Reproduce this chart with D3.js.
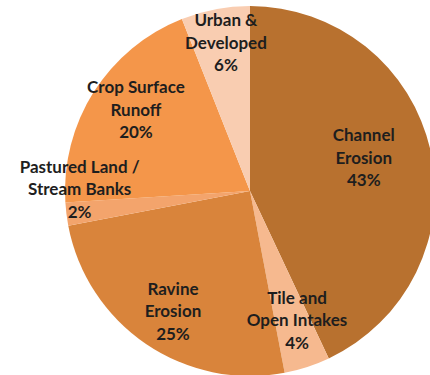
<!DOCTYPE html>
<html>
<head>
<meta charset="utf-8">
<script src="https://cdn.jsdelivr.net/npm/d3@7"></script>
<style>
  body { margin: 0; background: #fff; }
  svg { display: block; }
</style>
</head>
<body>
<svg width="430" height="375"></svg>
<script>
// data, clockwise from 12 o'clock
var categories = ["Channel Erosion", "Tile and Open Intakes", "Ravine Erosion",
                  "Pastured Land / Stream Banks", "Crop Surface Runoff", "Urban & Developed"];
var values = [43, 4, 25, 2, 20, 6];
// how each label wraps
var labelLines = [
    ["Channel", "Erosion"],
    ["Tile and", "Open Intakes"],
    ["Ravine", "Erosion"],
    ["Pastured Land /", "Stream Banks"],
    ["Crop Surface", "Runoff"],
    ["Urban &", "Developed"]
];
var colors = ["#b8712f", "#f6b98f", "#d9843b", "#f3a46c", "#f4964a", "#f9cdb1"];

var svg = d3.select("svg"),
    width = +svg.attr("width"),
    height = +svg.attr("height");

var cx = 250, cy = 191, radius = 185;

// label placement, as a fraction of radius (+ a small nudge)
var labelRadius = [0.63, 0.7, 0.76, 0.95, 0.73, 0.81];
var labelNudge = [[0, -8], [7, 6], [2, 4], [4, -24], [0, -9], [4, -1]];

var pie = d3.pie()
    .sort(null)
    .value(function (d) { return d; });

var arc = d3.arc()
    .innerRadius(0)
    .outerRadius(radius);

var g = svg.append("g")
    .attr("transform", "translate(" + cx + "," + cy + ")");

var arcs = pie(values);

g.selectAll("path")
    .data(arcs)
    .enter()
    .append("path")
    .attr("d", arc)
    .attr("fill", function (d, i) { return colors[i]; });

var lineH = 22.5;

var labels = g.selectAll("text.lbl")
    .data(arcs)
    .enter()
    .append("text")
    .attr("class", "lbl")
    .attr("text-anchor", "middle")
    .style("font-family", "Lato, 'Open Sans', sans-serif")
    .style("font-weight", "bold")
    .style("font-size", "17px")
    .style("fill", "#1e1e1e")
    .attr("transform", function (d, i) {
        var r = radius * labelRadius[i];
        var c = d3.arc().innerRadius(r).outerRadius(r).centroid(d);
        return "translate(" + (c[0] + labelNudge[i][0]) + "," + (c[1] + labelNudge[i][1]) + ")";
    });

labels.each(function (d, i) {
    var t = d3.select(this);
    var lines = labelLines[i].concat([values[i] + "%"]);
    var y0 = -(lines.length - 1) / 2 * lineH + 6;
    lines.forEach(function (s, k) {
        t.append("tspan")
            .attr("x", 0)
            .attr("y", y0 + k * lineH)
            .text(s);
    });
});
</script>
</body>
</html>
